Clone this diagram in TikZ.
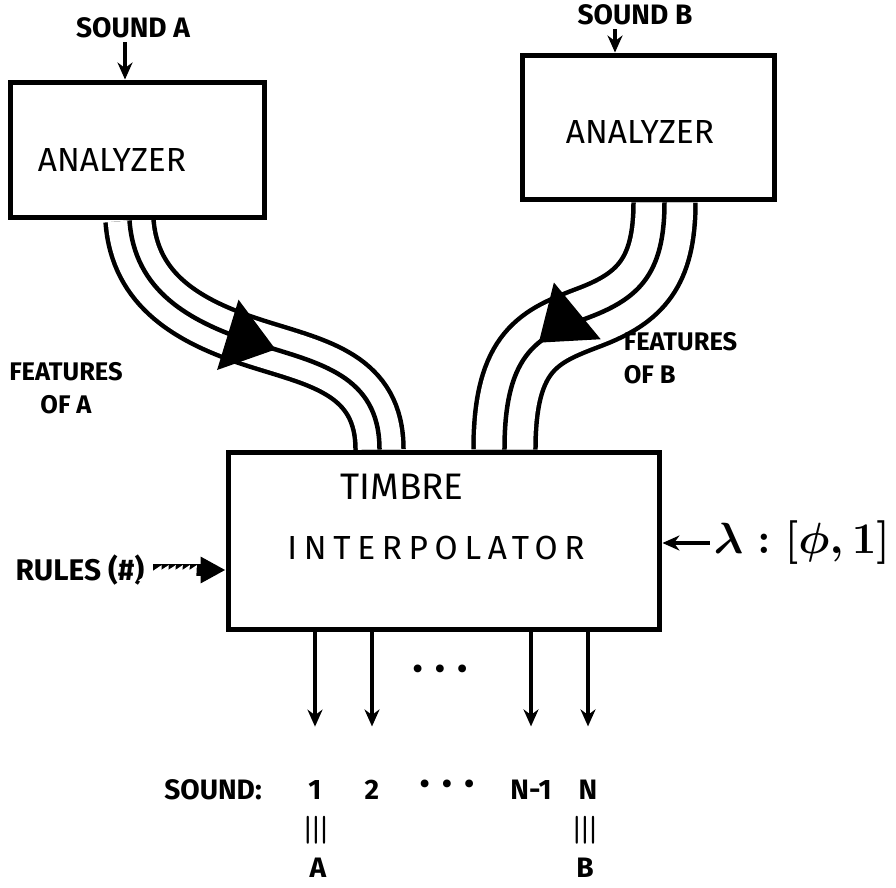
\documentclass[tikz,border=0pt]{standalone}
\usepackage{fontspec}
\setmainfont{Fira Sans}
\usetikzlibrary{arrows.meta, positioning, calc, backgrounds, decorations.markings}

\begin{document}
\begin{tikzpicture}[x=0.02cm, y=-0.02cm,
        box/.style={rectangle, draw, line width=0.1cm, fill=white, inner sep=0pt},
        boxtxt/.style={font=\fontsize{19}{22}\selectfont},
        lbl/.style={font=\fontsize{16}{19}\selectfont\bfseries, align=center, inner sep=2pt},
        arrow/.style={-{Stealth[length=0.34cm, width=0.3cm]}, line width=0.075cm},
        bundle/.style={line width=0.09cm, preaction={draw, line width=#1+0.09cm}, preaction={draw=white, line width=#1-0.09cm}},
        featarrow/.style={postaction={decorate, decoration={markings, mark=at position #1 with {\arrow{Triangle[length=1cm, width=1.45cm]}}}}},
        hatcharrow/.style={line width=0.26cm, -{Triangle[length=0.5cm, width=0.5cm]},
            postaction={decorate, decoration={markings, mark=between positions 0.08 and 0.6 step 4pt with {\draw[white, line width=1pt] (-1.6pt,-2.8pt) -- (1.6pt,2.8pt);}}}}
    ]
    \useasboundingbox (0,0) rectangle (896,888);

    % Analyzers
    \node[box, minimum width=5.1cm, minimum height=2.72cm] (anA) at (137.5,150) {};
    \node[boxtxt] (anAtxt) at (112,160) {ANALYZER};
    \node[box, minimum width=5.06cm, minimum height=2.9cm] (anB) at (648.5,127.5) {};
    \node[boxtxt] (anBtxt) at (640,132) {ANALYZER};

    % Inputs
    \node[lbl] (sndA) at (133,28) {SOUND A};
    \node[lbl] (sndB) at (635,15) {SOUND B};
    \draw[arrow] ([xshift=-0.16cm]sndA.south) -- ([xshift=-0.16cm]sndA.south |- anA.north);
    \draw[arrow] ([xshift=-0.4cm]sndB.south) -- ([xshift=-0.4cm]sndB.south |- anB.north);

    % Interpolator
    \node[box, minimum width=8.64cm, minimum height=3.56cm] (interp) at (444,541) {};
    \node[boxtxt, font=\fontsize{21}{24}\selectfont] (timbre) at (402,487) {TIMBRE};
    \node[boxtxt, font=\fontsize{19}{22}\selectfont\addfontfeatures{LetterSpace=20}] (interpol) at (436,548) {INTERPOLATOR};

    % Feature bundles
    \node[lbl, font=\fontsize{14.5}{19}\selectfont\bfseries] (featA) at (66,388) {FEATURES\\OF A};
    \node[lbl, font=\fontsize{14.5}{19}\selectfont\bfseries, align=left, anchor=west] (featB) at (620,358) {FEATURES\\OF B};

    \begin{scope}[on background layer]
        \coordinate (fa0) at ([xshift=2.44cm]anA.south west);
        \coordinate (fa1) at ([xshift=3.08cm]interp.north west);
        \coordinate (ja) at (258,344);
        \draw[bundle=0.96cm, featarrow=0.57] (fa0) .. controls +(5,70) and +(-70,-22) .. (ja) .. controls +(60,19) and +(0,-75) .. (fa1);

        \coordinate (fb0) at ([xshift=2.9cm]anB.south west);
        \coordinate (fb1) at ([xshift=5.58cm]interp.north west);
        \coordinate (jb) at (590,317);
        \draw[bundle=1.24cm, featarrow=0.64] (fb0) .. controls +(0,70) and +(50,-19) .. (jb) .. controls +(-50,19) and +(0,-100) .. (fb1);
    \end{scope}

    % Side inputs
    \node[lbl, font=\fontsize{17}{20}\selectfont\bfseries] (rules) at (80,570) {RULES (\#)};
    \draw[hatcharrow] ([xshift=0.1cm]rules.east) -- (rules.east -| interp.west);
    \node[lbl, font=\fontsize{24}{28}\selectfont\boldmath] (lam) at (802,543) {$\lambda : [\phi, 1]$};
    \draw[arrow] (lam.west) -- (lam.west -| interp.east);

    % Outputs
    \node[lbl] (sound) at (213,790) {SOUND:};
    \node[lbl] (o1) at (315,790) {1};
    \node[lbl] (o2) at (372,790) {2};
    \node[lbl] (odots) at (447,787) {\textbullet\hspace{0.45em}\textbullet\hspace{0.45em}\textbullet};
    \node[lbl] (oN1) at (531,790) {N-1};
    \node[lbl] (oN) at (588,790) {N};
    \node[lbl] (mdots) at (440,672) {\textbullet\hspace{0.45em}\textbullet\hspace{0.45em}\textbullet};
    \foreach \o in {o1, o2, oN1, oN}
        \draw[arrow] (\o |- interp.south) -- ([yshift=1cm]\o.north);

    \node[lbl, font=\fontsize{20}{22}\selectfont\boldmath, rotate=90] (eqA) at (316,830) {$\equiv$};
    \node[lbl] (endA) at (318,868) {A};
    \node[lbl, font=\fontsize{20}{22}\selectfont\boldmath, rotate=90] (eqB) at (585,830) {$\equiv$};
    \node[lbl] (endB) at (585,868) {B};
\end{tikzpicture}
\end{document}
